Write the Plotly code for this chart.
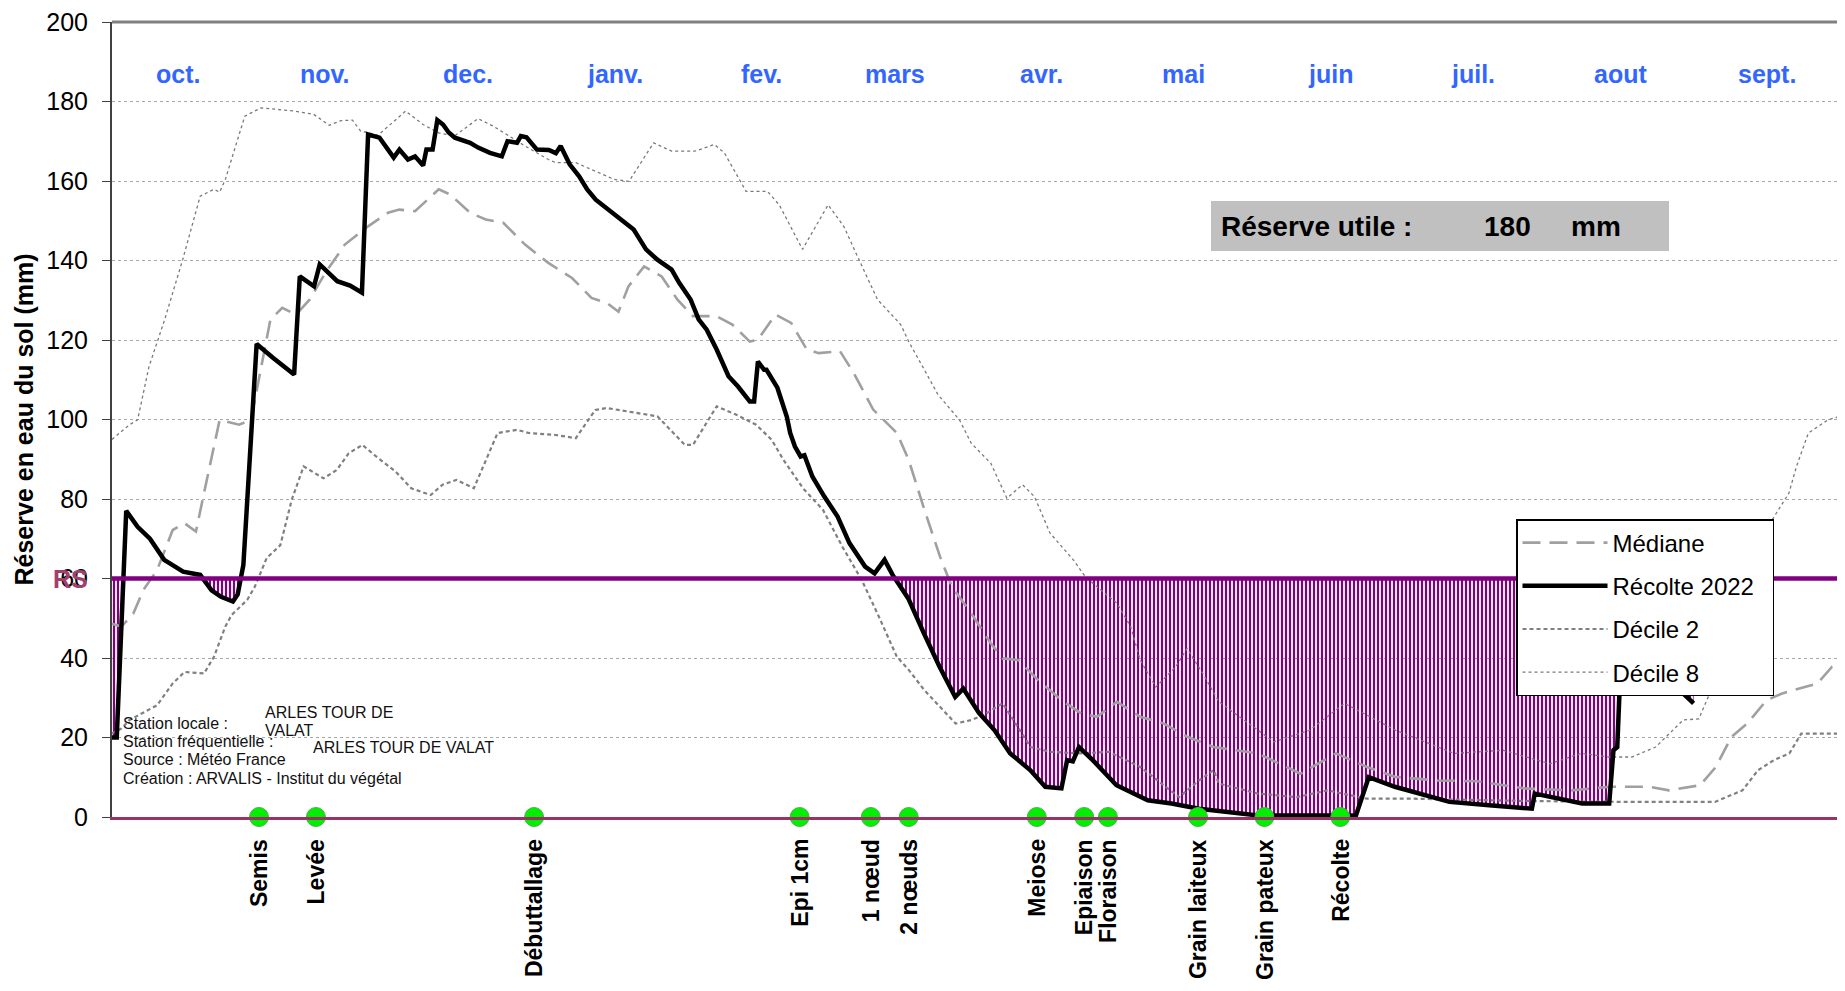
import plotly.graph_objects as go
import pandas as pd

# ---------------- DATA ----------------
START = pd.Timestamp("2021-10-01")

recolte_day = [0, 1, 3, 5.4, 8, 11, 15, 18.6, 21, 23, 25.5, 26.5, 27.7, 30.5, 34, 38.4, 39.6, 42.6, 43.8,
               47.5, 50.2, 52.7, 54, 56.4, 59.4, 60.6, 62.4, 63.9, 65.6, 66.3, 67.6, 68.6, 69.8, 71, 72.3,
               75.5, 77.2, 79.7, 82.2, 83.4, 85.4, 86.2, 87.4, 89.6, 92.1, 93.6, 94.6, 96.5, 98.5, 100.2,
               102, 106, 110, 112.6, 115, 118, 119.6, 122, 123.7, 125.4, 127.5, 130, 132, 134.5, 135.4,
               136.2, 137.5, 138, 140.3, 142.3, 143, 144, 145.2, 146, 147.7, 150.2, 153, 155.5, 158.8,
               160.8, 162.9, 164.6, 167.9, 171.2, 174.5, 177.8, 179.5, 182.8, 186.1, 189.4, 193.6, 196.8,
               200.2, 201.4, 202.6, 203.9, 206.8, 211.8, 218.4, 223.4, 229.2, 233.4, 241.6, 262.3, 265,
               270.5, 282, 291, 299.4, 300, 310, 315.7, 316.6, 317.4, 318, 326, 332, 333.5]
recolte_val = [20, 20, 77, 73, 70, 64.7, 61.7, 60.9, 57, 55.4, 54.2, 56, 63.4, 119, 115.5, 111.3, 136, 133.5, 139,
               134.8, 133.7, 131.9, 171.7, 170.9, 165.9, 167.9, 165.4, 166.2, 163.9, 167.9, 167.9, 175.3, 174.2,
               172.2, 170.9, 169.6, 168.4, 167.1, 166.2, 170, 169.6, 171.3, 171, 167.9, 167.8, 167, 168.8, 164.2,
               161.2, 157.9, 155.3, 151.5, 147.8, 142.8, 140.2, 137.7, 134.4, 130.2, 125.2, 122.6, 117.6, 110.9,
               108.3, 104.5, 104.5, 114.6, 112.5, 112.5, 108, 100.7, 96.6, 93.2, 90.7, 91, 85.6, 80.6, 75.6,
               68.9, 63, 61.3, 64.7, 60.9, 55, 46.2, 37.8, 30.2, 32.3, 26.2, 21.8, 16, 11.8, 7.6, 7.2, 14.3, 14,
               17.6, 14.3, 8, 4.2, 3.4, 2.1, 1.5, 0.4, 0.4, 10, 7.6, 3.8, 2.9, 2.1, 5.9, 3.4, 3.4, 16.8, 17.6,
               35, 37, 30.5, 28.6]

mediane_day = [0, 2, 4.5, 6.6, 9.5, 12.8, 15.3, 17.7, 19.4, 22.7, 26.8, 29.3, 33.4, 35.9, 38.8, 41.7, 45, 49.1,
               54, 58.2, 60.6, 63.9, 68.9, 71.3, 75.5, 78.8, 82.5, 87.1, 92, 97, 101.1, 104.4, 106.8, 108.9,
               112.2, 115.9, 119.2, 122.5, 127.5, 130.8, 134.5, 136.2, 139.9, 143.2, 146.5, 149, 153.5, 156.4,
               160.5, 165.5, 168, 171.3, 174.6, 177.1, 181.2, 185.3, 187.8, 191.1, 195.3, 200.2, 204.4, 207.7,
               211.9, 216.8, 221.8, 226.7, 232.3, 241.6, 250.6, 258.1, 264.6, 270.5, 279.5, 287.8, 297.8, 307.7,
               315.9, 324.2, 328.3, 334.9, 338.2, 341.5, 344.8, 348.9, 352.2, 357.2, 359.6, 362.7, 365]
mediane_val = [48.6, 47.9, 51.2, 57.1, 62.1, 72.2, 73.9, 71.8, 81.5, 99.9, 98.7, 99.9, 125.1, 128.1, 126.4, 130.2,
               136.9, 144, 148.6, 152, 152.8, 152.4, 157.9, 156.6, 152, 150.3, 149.5, 144, 139.4, 135.6, 130.6,
               129.3, 127.1, 133.5, 138.5, 136, 130.2, 126, 126, 123.9, 119.6, 120.1, 126.4, 124.3, 117.6, 116.7,
               117.2, 111.7, 102.5, 96.6, 89.8, 77.3, 65.5, 57.9, 51.2, 43.7, 39.9, 39.5, 34.4, 29.4, 26, 25.2,
               29, 25.2, 23.5, 20.2, 17.6, 16, 10.9, 16, 12.6, 10.1, 9.2, 9, 7.2, 6.7, 7.6, 7.6, 6.7, 8, 12.6,
               20.2, 23.5, 29.4, 31.1, 32.7, 33.6, 37.8, 38]

decile2_day = [0, 2, 3.7, 9.5, 12.8, 15.3, 19.4, 21.5, 23.9, 25.2, 28.5, 30.1, 32.6, 35.5, 37.9, 40.4, 44.6, 47.4,
               49.9, 52.8, 55.7, 59.8, 63.1, 67.2, 69.7, 72.6, 76.3, 81.3, 85.4, 87.9, 93.6, 97.8, 101.9, 104.3,
               110.9, 115, 120.8, 122.5, 127.5, 132, 135.8, 139.1, 141.6, 145.7, 149.9, 154, 158.1, 161.4, 165.5,
               168, 171.3, 174.6, 177.9, 181.2, 183.7, 187.8, 193.7, 197.8, 204.4, 210.2, 216.8, 225, 229.2, 232.3,
               233.4, 241.6, 249.8, 256.3, 264.6, 274.5, 300, 320, 338, 343.8, 347.1, 350.4, 353.7, 356.2, 365]
decile2_val = [21, 22.3, 24.4, 28.1, 33.6, 36.5, 36.1, 40.3, 47.9, 50.8, 54.6, 57.9, 65.1, 68.4, 79.8, 88.2, 85.2,
               87.3, 91.5, 93.6, 90.7, 86.9, 82.7, 81, 83.6, 84.8, 82.7, 96.6, 97.4, 96.6, 96.1, 95.3, 102.4, 102.9,
               101.6, 100.8, 93.6, 93.6, 103.3, 101, 98.7, 94.9, 89.8, 82.7, 77.3, 68, 59.6, 51.2, 40.3, 37, 31.9,
               27.7, 23.5, 24.4, 25.6, 28.6, 17.6, 16.4, 16, 16.4, 12.6, 5, 9.2, 11.8, 8.4, 5.9, 5, 6.7, 4.6, 4.6,
               4, 3.8, 3.8, 6.7, 11.8, 14.3, 16, 21, 21]

decile8_day = [0, 3.7, 5.4, 7.8, 11.1, 14.9, 18.6, 21.5, 22.7, 23.9, 28, 31.4, 38.4, 42.5, 45.8, 48.3, 50.7, 52.4,
               56.1, 61.9, 65.6, 68.9, 72.2, 77.2, 80.4, 83.7, 87.1, 92, 93.6, 97.8, 101.9, 105.9, 109, 114.2, 118,
               122.9, 127, 129.1, 133.7, 138.2, 140.7, 145.6, 151, 154.3, 157.2, 161.4, 166.3, 168, 171.3, 174.2,
               178.7, 181.2, 185.3, 188.7, 192, 194.5, 197.8, 202.7, 205.2, 207.7, 211.9, 214.8, 216.8, 220.1,
               224.3, 226.7, 230, 233.4, 245, 252.5, 259.9, 270.7, 283, 293.3, 303.2, 309.8, 315.6, 320.5, 325.5,
               331.3, 334.6, 337.2, 343, 347.4, 353.6, 355.2, 357.7, 361.8, 365]
decile8_val = [95, 98.7, 99.9, 113.3, 125.1, 140.2, 156.2, 157.9, 157.2, 160.4, 176.3, 178.4, 177.6, 176.8, 174,
               175.2, 175.3, 172.6, 171.5, 177.6, 174.2, 172.1, 171.3, 175.7, 173.8, 171.3, 168.8, 165.4, 164.6,
               164.6, 162.4, 160.4, 159.9, 169.6, 167.5, 167.5, 169.2, 167.1, 157.4, 157.4, 154, 142.8, 154, 148.6,
               141, 130.2, 123.9, 119.6, 112.5, 106.2, 99.9, 94, 89, 80.2, 83.6, 80.6, 71.4, 64.7, 60.5, 57.9, 53.8,
               47.9, 39.5, 32.7, 37.8, 42.4, 36.1, 29, 18.9, 21.8, 28.6, 21.8, 16, 16.8, 13.4, 16, 15.1, 15.1, 17.6,
               24.4, 24.7, 31.9, 50, 69.7, 81.5, 88.2, 96.6, 99.9, 101]

months = ["oct.", "nov.", "dec.", "janv.", "fev.", "mars", "avr.", "mai", "juin", "juil.", "aout", "sept."]
month_dates = pd.date_range("2021-10-15", periods=12, freq=pd.DateOffset(months=1))

stages = ["Semis", "Levée", "Débuttallage", "Epi 1cm", "1 nœud", "2 nœuds", "Meiose", "Epiaison",
          "Floraison", "Grain laiteux", "Grain pateux", "Récolte"]
stage_dates = ["2021-11-01", "2021-11-13", "2021-12-29", "2022-02-23", "2022-03-10", "2022-03-18",
               "2022-04-14", "2022-04-24", "2022-04-29", "2022-05-18", "2022-06-01", "2022-06-17"]

RS = 60
RU = 180

# ---------------- LAYOUT HELPERS ----------------
OFF = 8                      # page body margin of the html output
W, H = 1845 - OFF, 991 - OFF
PL, PR, PT, PB = 112, 1843, 22, 817   # plot area in screen pixels
FONT = "Liberation Sans, Arial, sans-serif"


def px_x(px):
    return (px - PL) / (PR - PL)


def px_y(py):
    return (PB - py) / (PB - PT)


def day_of(d):
    return (pd.Timestamp(d) - START).days


def clip_below(xs, ys, level):
    ox, oy = [], []
    for i in range(len(xs)):
        if i > 0:
            y0, y1 = ys[i - 1], ys[i]
            if (y0 - level) * (y1 - level) < 0:
                t = (level - y0) / (y1 - y0)
                ox.append(xs[i - 1] + t * (xs[i] - xs[i - 1]))
                oy.append(level)
        ox.append(xs[i])
        oy.append(min(ys[i], level))
    return ox, oy


fig = go.Figure()

# hatched deficit area between RS and the 2022 curve
fx, fy = clip_below(recolte_day, recolte_val, RS)
fig.add_trace(go.Scatter(x=fx, y=[RS] * len(fx), mode="lines", line=dict(width=0),
                         showlegend=False, hoverinfo="skip"))
fig.add_trace(go.Scatter(x=fx, y=fy, mode="lines", line=dict(width=0), fill="tonexty",
                         fillcolor="rgba(0,0,0,0)",
                         fillpattern=dict(shape="|", fgcolor="#800080", bgcolor="rgba(255,255,255,0)",
                                          fgopacity=1, size=4, solidity=0.55),
                         showlegend=False, hoverinfo="skip"))

fig.add_trace(go.Scatter(x=decile8_day, y=decile8_val, mode="lines", name="Décile 8", legendrank=4,
                         legendgroup="d8",
                         line=dict(color="#7A7A7A", width=1.3, dash="dot")))
fig.add_trace(go.Scatter(x=decile2_day, y=decile2_val, mode="lines", name="Décile 2", legendrank=3,
                         legendgroup="d2",
                         line=dict(color="#808080", width=2.2, dash="4px,3px")))
fig.add_trace(go.Scatter(x=mediane_day, y=mediane_val, mode="lines", name="Médiane", legendrank=1,
                         legendgroup="med",
                         line=dict(color="#A0A0A0", width=2.6, dash="18px,9px")))
fig.add_trace(go.Scatter(x=recolte_day, y=recolte_val, mode="lines", name="Récolte 2022\u00a0\u00a0",
                         legendrank=2, legendgroup="rec",
                         line=dict(color="#000000", width=4.5)))

# RS line
fig.add_trace(go.Scatter(x=[0, 365], y=[RS, RS], mode="lines", line=dict(color="#800080", width=4.5),
                         showlegend=False, hoverinfo="skip"))

# stage markers
sdays = [day_of(d) for d in stage_dates]
fig.add_trace(go.Scatter(x=sdays, y=[0] * len(sdays), mode="markers", cliponaxis=False,
                         marker=dict(size=19, color="#00F000", line=dict(color="#4CAF50", width=1)),
                         showlegend=False, hoverinfo="skip"))

annotations = []
for m, d in zip(months, month_dates):
    annotations.append(dict(x=(d - START).days, y=187, xref="x", yref="y", text=f"<b>{m}</b>",
                            xanchor="center", yanchor="middle",
                            showarrow=False, font=dict(family=FONT, size=25, color="#3366FF")))

for s, d in zip(stages, sdays):
    annotations.append(dict(x=d, y=0, xref="x", yref="y", text=f"<b>{s}</b>", textangle=-90,
                            showarrow=False, xanchor="center", yanchor="top", yshift=-20,
                            font=dict(family=FONT, size=23, color="black")))

# y-axis title
annotations.append(dict(x=px_x(23), y=0.5, xref="paper", yref="paper", textangle=-90,
                        xanchor="center", yanchor="middle",
                        text="<b>Réserve en eau du sol (mm)</b>", showarrow=False,
                        font=dict(family=FONT, size=25, color="black")))
# RS label
annotations.append(dict(x=px_x(70), y=RS, xref="paper", yref="y", text="<b>RS</b>", showarrow=False,
                        xanchor="center", yanchor="middle",
                        font=dict(family=FONT, size=25, color="#A0406E")))

# Réserve utile box texts
for t, x, anc in [("<b>Réserve utile :</b>", 1219, "left"), (f"<b>{RU}</b>", 1507, "center"),
                  ("<b>mm</b>", 1596, "center")]:
    annotations.append(dict(x=px_x(x), y=px_y(226), xref="paper", yref="paper", xanchor=anc,
                            yanchor="middle", text=t, showarrow=False,
                            font=dict(family=FONT, size=28, color="black")))

# station info texts
info = [("Station locale :", 121, 723), ("ARLES TOUR DE", 263, 712), ("VALAT", 263, 730),
        ("Station fréquentielle :", 121, 741), ("ARLES TOUR DE VALAT", 311, 747),
        ("Source : Météo France", 121, 759), ("Création : ARVALIS - Institut du végétal", 121, 778)]
for t, x, y in info:
    annotations.append(dict(x=px_x(x), y=px_y(y), xref="paper", yref="paper", xanchor="left",
                            yanchor="middle", text=t, showarrow=False,
                            font=dict(family=FONT, size=16, color="#111111")))

shapes = [
    dict(type="rect", xref="paper", yref="paper", x0=px_x(1211), x1=px_x(1669), y0=px_y(251), y1=px_y(201),
         fillcolor="#C0C0C0", line=dict(width=0), layer="above"),
    dict(type="line", xref="paper", yref="paper", x0=0, x1=1, y0=1, y1=1,
         line=dict(color="#808080", width=3)),
    dict(type="line", xref="paper", yref="paper", x0=1, x1=1, y0=0, y1=1,
         line=dict(color="#909090", width=2)),
]

fig.update_layout(
    width=W, height=H,
    margin=dict(l=PL - OFF, r=W - (PR - OFF), t=PT - OFF, b=H - (PB - OFF), autoexpand=False),
    paper_bgcolor="white", plot_bgcolor="white",
    font=dict(family=FONT, color="black"),
    xaxis=dict(range=[0, 365], showgrid=False, showticklabels=False, ticks="", zeroline=False,
               showline=True, linecolor="#993366", linewidth=3, automargin=False),
    yaxis=dict(range=[0, 200], dtick=20, showgrid=True, gridcolor="#A8A8A8", griddash="dot", gridwidth=1,
               zeroline=False, showline=True, linecolor="#404040", linewidth=2, ticks="outside", ticklen=8,
               tickcolor="#404040", tickfont=dict(family=FONT, size=25, color="black"),
               ticklabelstandoff=9, ticklabeloverflow="allow", automargin=False),
    legend=dict(x=px_x(1516), y=px_y(519), xanchor="left", yanchor="top", bgcolor="white",
                bordercolor="black", borderwidth=1.5, font=dict(family=FONT, size=24, color="black"),
                itemwidth=85, tracegroupgap=9, traceorder="grouped"),
    annotations=annotations,
    shapes=shapes,
    showlegend=True,
)

fig.write_html("out.html")
